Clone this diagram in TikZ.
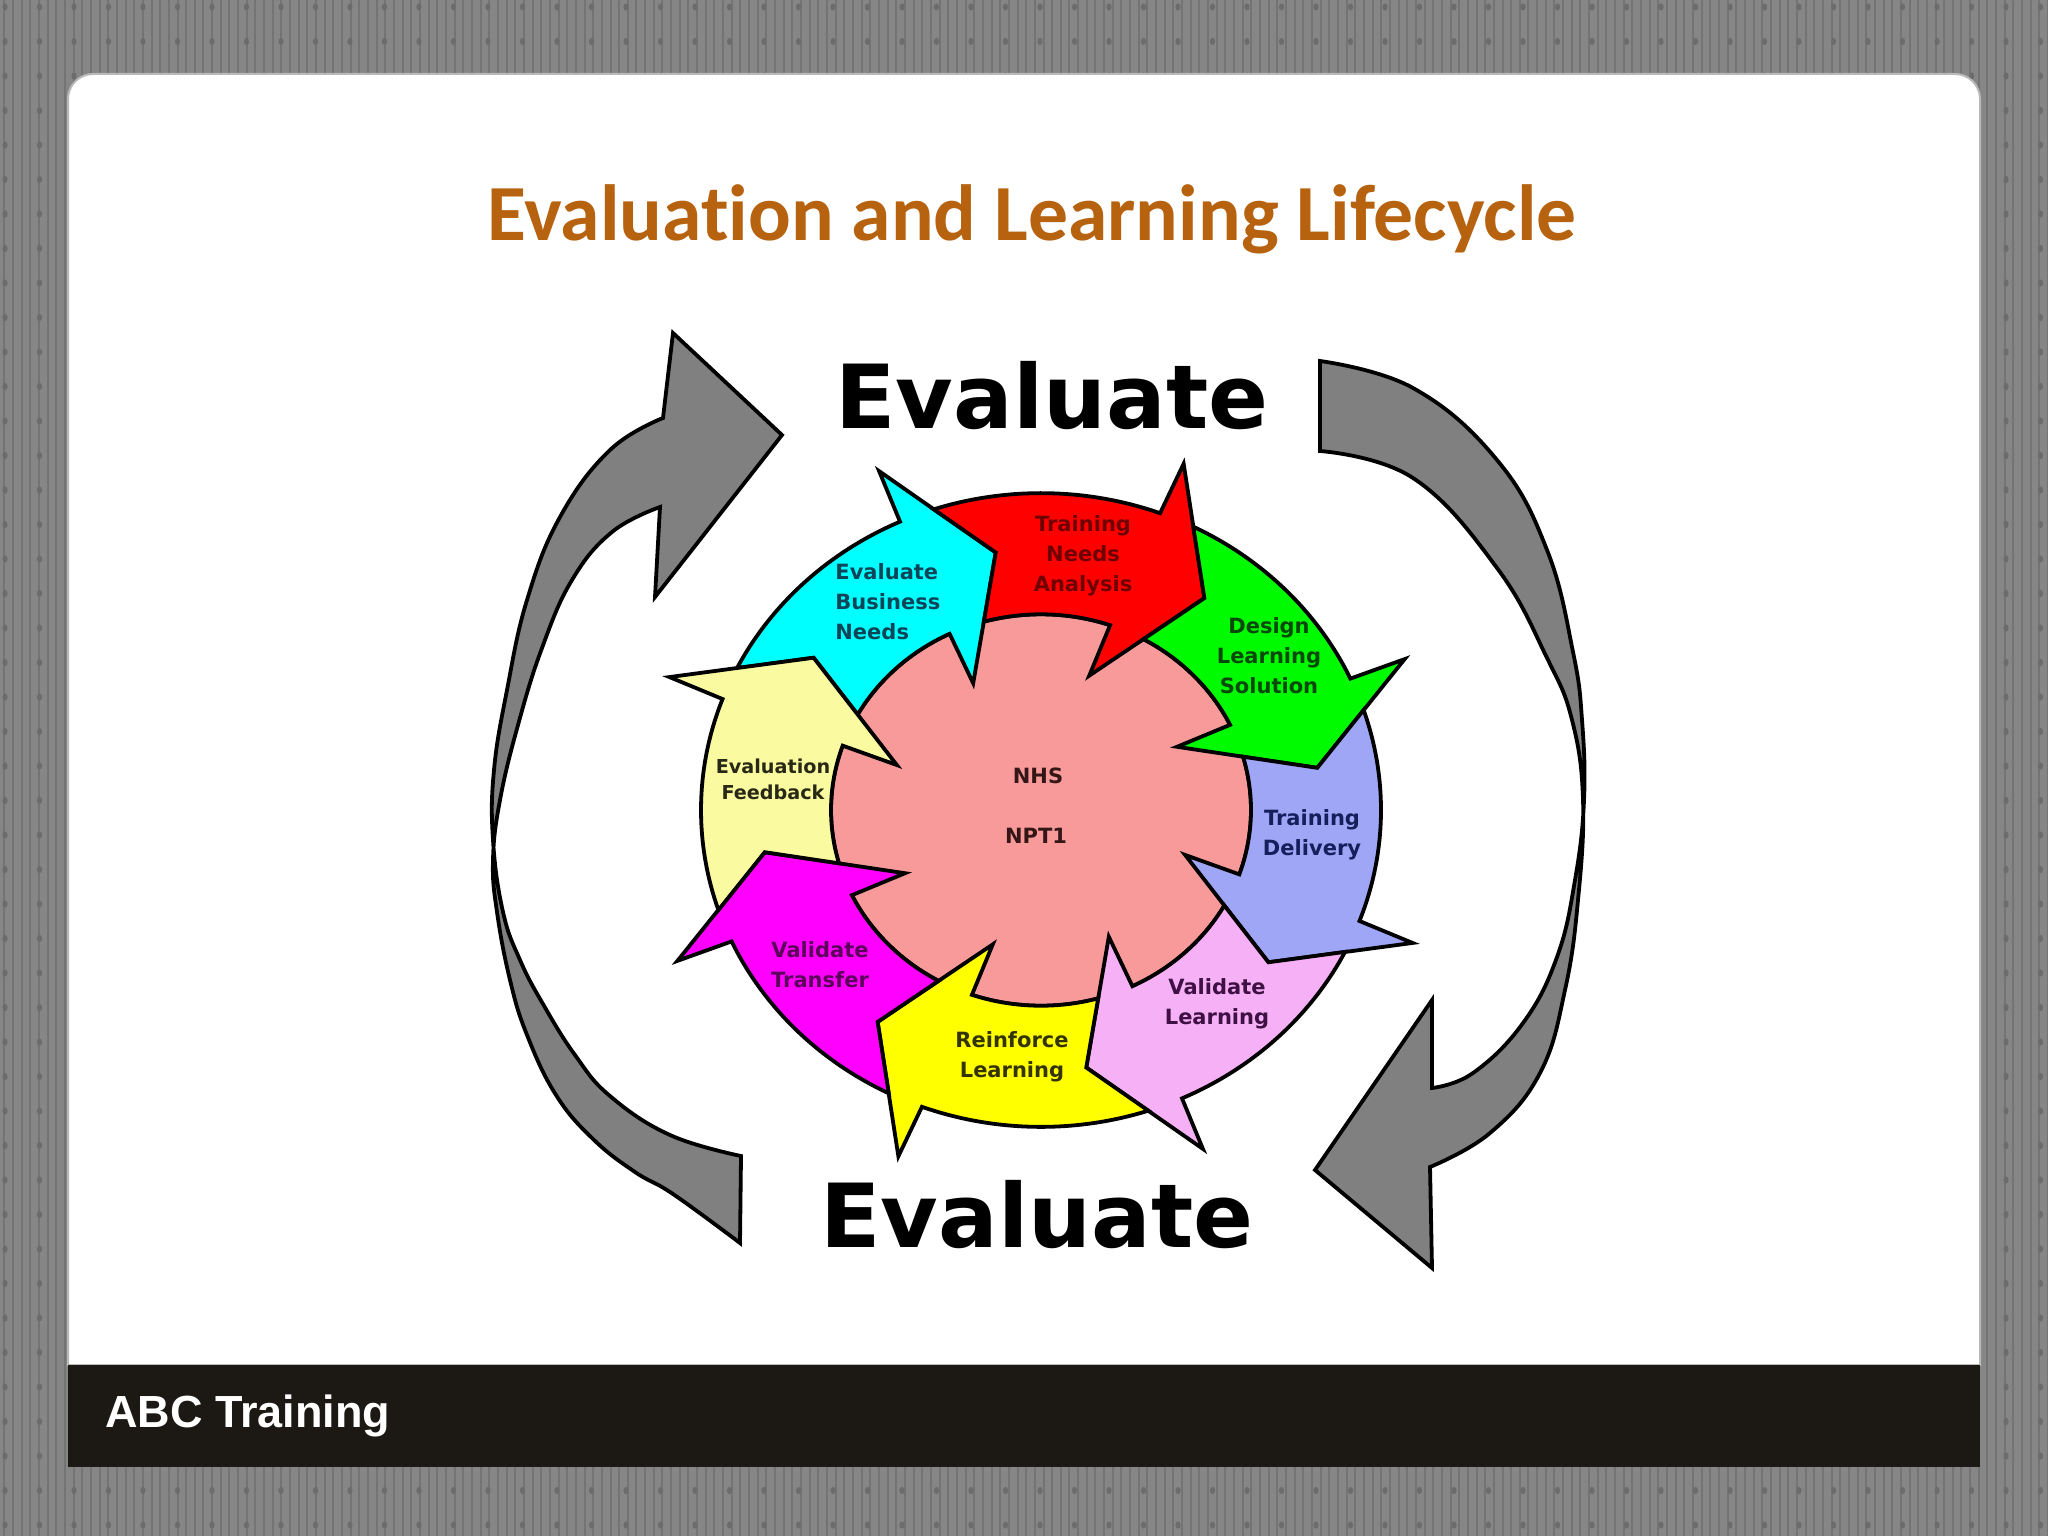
\documentclass[tikz,border=0pt]{standalone}
\usepackage{fontspec}
\setmainfont{DejaVu Sans}
\newfontfamily\titlefont{Carlito}[Ligatures=NoCommon]
\newfontfamily\footfont{Liberation Sans}
\definecolor{bggray}{RGB}{134,134,134}
\definecolor{stripec}{RGB}{116,116,116}
\definecolor{beadc}{RGB}{108,108,108}
\definecolor{rimc}{RGB}{185,185,185}
\definecolor{footc}{RGB}{28,24,20}
\definecolor{titlec}{RGB}{182,98,14}
\definecolor{garrow}{RGB}{128,128,128}
\definecolor{pinkc}{RGB}{248,154,154}
\definecolor{cyanA}{RGB}{0,255,255}
\definecolor{redA}{RGB}{255,0,0}
\definecolor{greenA}{RGB}{0,250,0}
\definecolor{blueA}{RGB}{160,166,246}
\definecolor{violetA}{RGB}{246,176,246}
\definecolor{yellowA}{RGB}{255,255,0}
\definecolor{magentaA}{RGB}{255,0,255}
\definecolor{lyellowA}{RGB}{250,250,160}
\definecolor{cyanT}{RGB}{12,68,88}
\definecolor{redT}{RGB}{110,0,0}
\definecolor{greenT}{RGB}{8,72,8}
\definecolor{blueT}{RGB}{22,30,92}
\definecolor{violetT}{RGB}{62,16,68}
\definecolor{yellowT}{RGB}{52,52,0}
\definecolor{magentaT}{RGB}{92,0,92}
\definecolor{lyellowT}{RGB}{40,40,22}
\definecolor{pinkT}{RGB}{52,22,22}
\tikzset{
  outline/.style={draw=black, line width=1.9pt, line join=miter},
  grayarrow/.style={outline, fill=garrow},
  lbl/.style={font=\bfseries\fontsize{10.5}{15}\selectfont, align=center, inner sep=0pt},
  bigeval/.style={font=\bfseries\fontsize{44.2}{45}\selectfont, text=black, inner sep=0pt, anchor=base west},
}
\begin{document}
\begin{tikzpicture}[x=0.5pt,y=0.5pt]
\useasboundingbox (0,0) rectangle (2048,-1536);
% textured background
\fill[bggray] (0,0) rectangle (2048,-1536);
\foreach \i in {0,...,236} {\draw[stripec, line width=1pt] ({4.3+8.66*\i},0) -- ({4.3+8.66*\i},-1536);}
\foreach \i in {0,...,59} {\foreach \j in {0,...,44} {\fill[beadc] ({5+34.5*\i},{-7-34.5*\j}) ellipse[x radius=2.6, y radius=3.6];}}
% slide
\draw[fill=white, draw=rimc, line width=1pt] (68,-1365) -- (68,-99) arc[start angle=180, end angle=90, radius=25] -- (1955,-74) arc[start angle=90, end angle=0, radius=25] -- (1980,-1365) -- cycle;
\fill[footc] (68,-1365) rectangle (1980,-1467);
\node[anchor=base west, inner sep=0pt, text=white, font=\footfont\bfseries\fontsize{22.5}{23}\selectfont] (footer) at (105,-1427) {ABC Training};
% title
\node[anchor=base, inner sep=0pt, text=titlec, font=\titlefont\bfseries\fontsize{39.8}{41}\selectfont] (title) at (1032,-240) {Evaluation and Learning Lifecycle};
% big labels
\node[bigeval] (evaltop) at (835,-428) {Evaluate};
\node[bigeval] (evalbot) at (820,-1247) {Evaluate};
% left gray arrow
\draw[grayarrow] (663,-418) -- (673,-333) -- (782,-435) -- (655,-597) -- (660,-507)
  -- plot[smooth, tension=0.7] coordinates {(660,-507) (612,-532) (572,-580) (542,-648) (518,-725) (500,-800) (493,-860) (497,-912) (510,-980) (527,-1035) (556,-1095) (593,-1139) (635,-1172) (673,-1194) (740,-1243)}
  -- (741,-1156)
  -- plot[smooth, tension=0.7] coordinates {(741,-1156) (670,-1135) (610,-1096) (575,-1055) (543,-1004) (520,-960) (503,-912) (493,-840) (494,-770) (507,-690) (527,-600) (560,-517) (610,-450) (663,-418)}
  -- cycle;
% right gray arrow
\draw[grayarrow] (1432,-1088) -- (1432,-1000) -- (1315,-1170) -- (1432,-1268) -- (1430,-1167)
  -- plot[smooth, tension=0.7] coordinates {(1430,-1167) (1490,-1133) (1540,-1073) (1565,-990) (1578,-900) (1583,-800) (1572,-720) (1547,-658) (1497,-568) (1413,-478) (1320,-451)}
  -- (1320,-361)
  -- plot[smooth, tension=0.7] coordinates {(1320,-361) (1413,-388) (1497,-460) (1547,-550) (1573,-652) (1582,-720) (1584,-800) (1575,-880) (1557,-957) (1523,-1023) (1473,-1073) (1432,-1088)}
  -- cycle;
% cycle
\begin{scope}[shift={(1041,-810)}, yscale=0.932]
  \draw[outline, fill=pinkc] (0,0) circle[radius=210];
  \foreach \ang/\col in {115/cyanA, 70/redA, 25/greenA, -20/blueA, -65/violetA, -110/yellowA, -155/magentaA, 160/lyellowA} {
    \draw[outline, fill=\col, rotate=\ang] (38.4:340) arc[start angle=38.4, end angle=-0.5, radius=340] -- (-1:398) -- (-15.7:280) -- (1.5:152) -- (0.8:210) arc[start angle=0.8, end angle=35.8, radius=210] -- (29.3:280) -- cycle;
  }
\end{scope}
% cycle labels
\node[lbl, text=cyanT, anchor=west, align=left] (ebn) at (835,-602) {Evaluate\\Business\\Needs};
\node[lbl, text=redT] (tna) at (1083,-556) {Training\\Needs\\Analysis};
\node[lbl, text=greenT] (dls) at (1269,-656) {Design\\Learning\\Solution};
\node[lbl, text=blueT] (td) at (1312,-835) {Training\\Delivery};
\node[lbl, text=violetT] (vl) at (1217,-1004) {Validate\\Learning};
\node[lbl, text=yellowT] (rl) at (1012,-1057) {Reinforce\\Learning};
\node[lbl, text=magentaT] (vt) at (820,-965) {Validate\\Transfer};
\node[lbl, text=lyellowT, font=\bfseries\fontsize{9.6}{13}\selectfont] (ef) at (773,-779) {Evaluation\\Feedback};
\node[lbl, text=pinkT] (nhs) at (1038,-776) {NHS};
\node[lbl, text=pinkT] (npt) at (1036,-836) {NPT1};
\end{tikzpicture}
\end{document}
